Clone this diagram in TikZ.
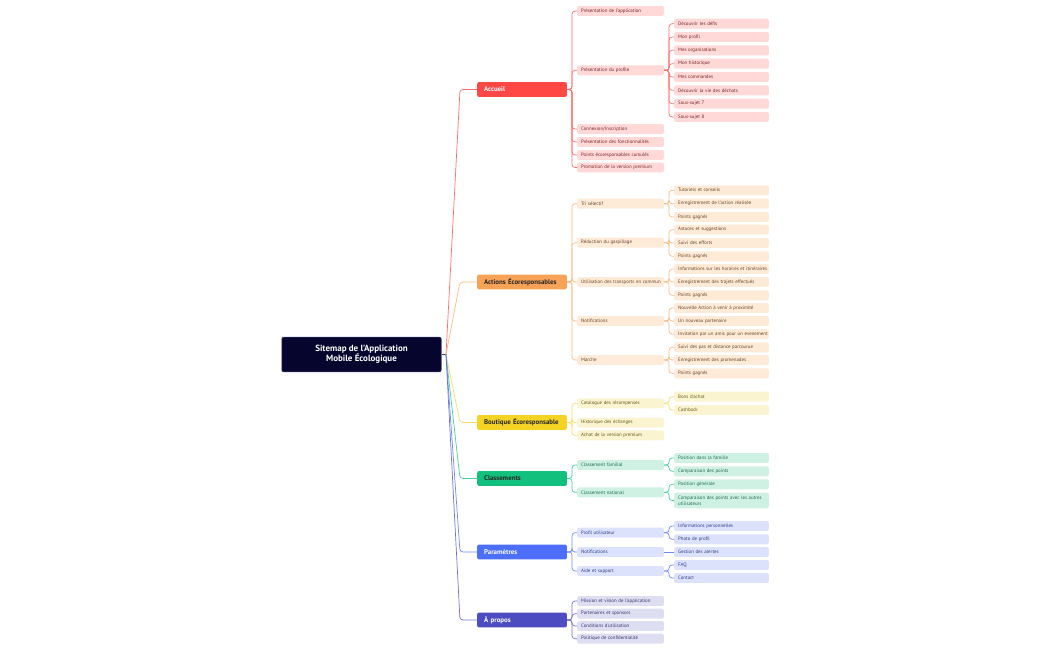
\documentclass[tikz,border=0pt]{standalone}
\usepackage{fontspec}
\setmainfont{PT Sans}
\definecolor{rootfill}{HTML}{05052E}
\definecolor{rootline}{HTML}{3E3E78}
\definecolor{redmain}{HTML}{FF4743}
\definecolor{redline}{HTML}{FF6E6A}
\definecolor{redlight}{HTML}{FFD8D8}
\definecolor{redtext}{HTML}{7A2424}
\definecolor{orgmain}{HTML}{F7A257}
\definecolor{orgline}{HTML}{F8BB82}
\definecolor{orglight}{HTML}{FDEAD7}
\definecolor{orgtext}{HTML}{6A4426}
\definecolor{yelmain}{HTML}{F4D325}
\definecolor{yelline}{HTML}{F4DC66}
\definecolor{yellight}{HTML}{FBF4D0}
\definecolor{yeltext}{HTML}{655716}
\definecolor{grnmain}{HTML}{12C07D}
\definecolor{grnline}{HTML}{44CF98}
\definecolor{grnlight}{HTML}{CFF1E4}
\definecolor{grntext}{HTML}{1F6A4E}
\definecolor{blumain}{HTML}{4C6EF8}
\definecolor{bluline}{HTML}{6F89F8}
\definecolor{blulight}{HTML}{DCE2FC}
\definecolor{blutext}{HTML}{2C3B86}
\definecolor{indmain}{HTML}{4D4CC1}
\definecolor{indline}{HTML}{7171D2}
\definecolor{indlight}{HTML}{DEDEF2}
\definecolor{indtext}{HTML}{34346C}
\tikzset{
  rootbox/.style={fill=rootfill,draw=rootline,line width=0.6,rounded corners=2,text=white,
    font=\bfseries\fontsize{9}{10.2}\selectfont,align=center,minimum width=160,
    minimum height=35,inner sep=0},
  topic/.style={anchor=west,rounded corners=2,font=\bfseries\fontsize{6.9}{7.5}\selectfont,
    text width=76,align=left,inner xsep=7,inner ysep=0,minimum height=15},
  subwrap/.style={anchor=west,rounded corners=2,font=\fontsize{4.9}{5.6}\selectfont,
    text width=79,align=left,inner xsep=4,inner ysep=0,minimum height=10},
  sub/.style={subwrap,execute at begin node={\hbox\bgroup},execute at end node={\egroup}},
  leaf/.style={sub,text width=87},
  leafwrap/.style={subwrap,text width=87},
  link/.style={line width=0.7,rounded corners=3}
}
\begin{document}
\begin{tikzpicture}[x=1bp,y=-1bp]
\useasboundingbox (0,0) rectangle (1050,650);
%%
  % Node: root
  \node[rootbox] (root) at (361.5,354.5) {Sitemap de l’Application\\Mobile Écologique};
  \coordinate (hub) at (446,354.5);
  \draw[link,rootline] (root.east) -- (hub);
%% Accueil
  \node[topic,fill=redmain,text=white] (accueil) at (477,89.5) {Accueil};
  \node[sub,fill=redlight,text=redtext] (accueil1) at (577,11) {Présentation de l’application};
  \node[sub,fill=redlight,text=redtext] (accueil2) at (577,70.3) {Présentation du profile};
  \node[sub,fill=redlight,text=redtext] (accueil3) at (577,129) {Connexion/Inscription};
  \node[sub,fill=redlight,text=redtext] (accueil4) at (577,142) {Présentation des fonctionnalités};
  \node[sub,fill=redlight,text=redtext] (accueil5) at (577,155) {Points écoresponsables cumulés};
  \node[sub,fill=redlight,text=redtext] (accueil6) at (577,167.5) {Promotion de la version premium};
  \node[leaf,fill=redlight,text=redtext] (profil1) at (674,23.7) {Découvrir les défis};
  \node[leaf,fill=redlight,text=redtext] (profil2) at (674,37) {Mon profil};
  \node[leaf,fill=redlight,text=redtext] (profil3) at (674,50.3) {Mes organisations};
  \node[leaf,fill=redlight,text=redtext] (profil4) at (674,63.7) {Mon historique};
  \node[leaf,fill=redlight,text=redtext] (profil5) at (674,77) {Mes commandes};
  \node[leaf,fill=redlight,text=redtext] (profil6) at (674,90.3) {Découvrir la vie des déchats};
  \node[leaf,fill=redlight,text=redtext] (profil7) at (674,103.7) {Sous-sujet 7};
  \node[leaf,fill=redlight,text=redtext] (profil8) at (674,117) {Sous-sujet 8};
  % Edge: root -> accueil
  \draw[link,redline] (hub) -- (460,89.5) -- (accueil.west);
  % Edges: accueil -> accueil1..6, accueil2 -> profil1..8
  \draw[link,redline] (accueil.east) -- ++(5,0) |- (accueil1.west);
  \draw[link,redline] (accueil.east) -- ++(5,0) |- (accueil2.west);
  \draw[link,redline] (accueil.east) -- ++(5,0) |- (accueil3.west);
  \draw[link,redline] (accueil.east) -- ++(5,0) |- (accueil4.west);
  \draw[link,redline] (accueil.east) -- ++(5,0) |- (accueil5.west);
  \draw[link,redline] (accueil.east) -- ++(5,0) |- (accueil6.west);
  \draw[link,redline] (accueil2.east) -- ++(5,0) |- (profil1.west);
  \draw[link,redline] (accueil2.east) -- ++(5,0) |- (profil2.west);
  \draw[link,redline] (accueil2.east) -- ++(5,0) |- (profil3.west);
  \draw[link,redline] (accueil2.east) -- ++(5,0) |- (profil4.west);
  \draw[link,redline] (accueil2.east) -- ++(5,0) |- (profil5.west);
  \draw[link,redline] (accueil2.east) -- ++(5,0) |- (profil6.west);
  \draw[link,redline] (accueil2.east) -- ++(5,0) |- (profil7.west);
  \draw[link,redline] (accueil2.east) -- ++(5,0) |- (profil8.west);
%% Actions
  \node[topic,fill=orgmain,text=black!85] (actions) at (477,282) {Actions Écoresponsables};
  \node[sub,fill=orglight,text=orgtext] (tri) at (577,203.7) {Tri sélectif};
  \node[sub,fill=orglight,text=orgtext] (gaspi) at (577,242.7) {Réduction du gaspillage};
  \node[sub,fill=orglight,text=orgtext] (transport) at (577,282) {Utilisation des transports en commun};
  \node[sub,fill=orglight,text=orgtext] (notif) at (577,321) {Notifications};
  \node[sub,fill=orglight,text=orgtext] (marche) at (577,360) {Marche};
  \node[leaf,fill=orglight,text=orgtext] (tri1) at (674,190.3) {Tutoriels et conseils};
  \node[leaf,fill=orglight,text=orgtext] (tri2) at (674,203.7) {Enregistrement de l’action réalisée};
  \node[leaf,fill=orglight,text=orgtext] (tri3) at (674,217) {Points gagnés};
  \node[leaf,fill=orglight,text=orgtext] (gaspi1) at (674,229.7) {Astuces et suggestions};
  \node[leaf,fill=orglight,text=orgtext] (gaspi2) at (674,243) {Suivi des efforts};
  \node[leaf,fill=orglight,text=orgtext] (gaspi3) at (674,256.3) {Points gagnés};
  \node[leaf,fill=orglight,text=orgtext] (transport1) at (674,269) {Informations sur les horaires et itinéraires};
  \node[leaf,fill=orglight,text=orgtext] (transport2) at (674,282) {Enregistrement des trajets effectués};
  \node[leaf,fill=orglight,text=orgtext] (transport3) at (674,295.3) {Points gagnés};
  \node[leaf,fill=orglight,text=orgtext] (notif1) at (674,308) {Nouvelle Action à venir à proximité};
  \node[leaf,fill=orglight,text=orgtext] (notif2) at (674,321) {Un nouveau partenaire};
  \node[leaf,fill=orglight,text=orgtext] (notif3) at (674,334) {Invitation par un amis pour un evenement};
  \node[leaf,fill=orglight,text=orgtext] (marche1) at (674,347.3) {Suivi des pas et distance parcourue};
  \node[leaf,fill=orglight,text=orgtext] (marche2) at (674,360) {Enregistrement des promenades};
  \node[leaf,fill=orglight,text=orgtext] (marche3) at (674,373.3) {Points gagnés};
  % Edge: root -> actions
  \draw[link,orgline] (hub) -- (460,282) -- (actions.west);
  % Edges: actions -> tri, gaspi, transport, notif, marche and their leaves
  \draw[link,orgline] (actions.east) -- ++(5,0) |- (tri.west);
  \draw[link,orgline] (actions.east) -- ++(5,0) |- (gaspi.west);
  \draw[link,orgline] (actions.east) -- ++(5,0) |- (transport.west);
  \draw[link,orgline] (actions.east) -- ++(5,0) |- (notif.west);
  \draw[link,orgline] (actions.east) -- ++(5,0) |- (marche.west);
  \draw[link,orgline] (tri.east) -- ++(5,0) |- (tri1.west);
  \draw[link,orgline] (tri.east) -- ++(5,0) |- (tri2.west);
  \draw[link,orgline] (tri.east) -- ++(5,0) |- (tri3.west);
  \draw[link,orgline] (gaspi.east) -- ++(5,0) |- (gaspi1.west);
  \draw[link,orgline] (gaspi.east) -- ++(5,0) |- (gaspi2.west);
  \draw[link,orgline] (gaspi.east) -- ++(5,0) |- (gaspi3.west);
  \draw[link,orgline] (transport.east) -- ++(5,0) |- (transport1.west);
  \draw[link,orgline] (transport.east) -- ++(5,0) |- (transport2.west);
  \draw[link,orgline] (transport.east) -- ++(5,0) |- (transport3.west);
  \draw[link,orgline] (notif.east) -- ++(5,0) |- (notif1.west);
  \draw[link,orgline] (notif.east) -- ++(5,0) |- (notif2.west);
  \draw[link,orgline] (notif.east) -- ++(5,0) |- (notif3.west);
  \draw[link,orgline] (marche.east) -- ++(5,0) |- (marche1.west);
  \draw[link,orgline] (marche.east) -- ++(5,0) |- (marche2.west);
  \draw[link,orgline] (marche.east) -- ++(5,0) |- (marche3.west);
%% Boutique
  \node[topic,fill=yelmain,text=black!85] (boutique) at (477,422.5) {Boutique Écoresponsable};
  \node[sub,fill=yellight,text=yeltext] (catalogue) at (577,403.3) {Catalogue des récompenses};
  \node[sub,fill=yellight,text=yeltext] (historique) at (577,422.7) {Historique des échanges};
  \node[sub,fill=yellight,text=yeltext] (achat) at (577,435.3) {Achat de la version premium};
  \node[leaf,fill=yellight,text=yeltext] (catalogue1) at (674,396.7) {Bons d’achat};
  \node[leaf,fill=yellight,text=yeltext] (catalogue2) at (674,410) {Cashback};
  % Edge: root -> boutique
  \draw[link,yelline] (hub) -- (460,422.5) -- (boutique.west);
  % Edges: boutique -> catalogue, historique, achat
  \draw[link,yelline] (boutique.east) -- ++(5,0) |- (catalogue.west);
  \draw[link,yelline] (boutique.east) -- ++(5,0) |- (historique.west);
  \draw[link,yelline] (boutique.east) -- ++(5,0) |- (achat.west);
  \draw[link,yelline] (catalogue.east) -- ++(5,0) |- (catalogue1.west);
  \draw[link,yelline] (catalogue.east) -- ++(5,0) |- (catalogue2.west);
%% Classements
  \node[topic,fill=grnmain,text=black!85] (classements) at (477,478.5) {Classements};
  \node[sub,fill=grnlight,text=grntext] (familial) at (577,465) {Classement familial};
  \node[sub,fill=grnlight,text=grntext] (national) at (577,492.3) {Classement national};
  \node[leaf,fill=grnlight,text=grntext] (familial1) at (674,458) {Position dans la famille};
  \node[leaf,fill=grnlight,text=grntext] (familial2) at (674,471.3) {Comparaison des points};
  \node[leaf,fill=grnlight,text=grntext] (national1) at (674,484.3) {Position générale};
  \node[leafwrap,fill=grnlight,text=grntext,minimum height=15.6] (national2) at (674,500.5) {Comparaison des points avec les autres\\utilisateurs};
  % Edge: root -> classements
  \draw[link,grnline] (hub) -- (460,478.5) -- (classements.west);
  % Edges: classements -> familial, national
  \draw[link,grnline] (classements.east) -- ++(5,0) |- (familial.west);
  \draw[link,grnline] (classements.east) -- ++(5,0) |- (national.west);
  \draw[link,grnline] (familial.east) -- ++(5,0) |- (familial1.west);
  \draw[link,grnline] (familial.east) -- ++(5,0) |- (familial2.west);
  \draw[link,grnline] (national.east) -- ++(5,0) |- (national1.west);
  \draw[link,grnline] (national.east) -- ++(5,0) |- (national2.west);
%% Parametres
  \node[topic,fill=blumain,text=white] (parametres) at (477,552) {Paramètres};
  \node[sub,fill=blulight,text=blutext] (profil) at (577,532.7) {Profil utilisateur};
  \node[sub,fill=blulight,text=blutext] (alertes) at (577,552) {Notifications};
  \node[sub,fill=blulight,text=blutext] (aide) at (577,571) {Aide et support};
  \node[leaf,fill=blulight,text=blutext] (profil9) at (674,526) {Informations personnelles};
  \node[leaf,fill=blulight,text=blutext] (profil10) at (674,539.3) {Photo de profil};
  \node[leaf,fill=blulight,text=blutext] (alertes1) at (674,552) {Gestion des alertes};
  \node[leaf,fill=blulight,text=blutext] (aide1) at (674,565) {FAQ};
  \node[leaf,fill=blulight,text=blutext] (aide2) at (674,578) {Contact};
  % Edge: root -> parametres
  \draw[link,bluline] (hub) -- (460,552) -- (parametres.west);
  % Edges: parametres -> profil, alertes, aide
  \draw[link,bluline] (parametres.east) -- ++(5,0) |- (profil.west);
  \draw[link,bluline] (parametres.east) -- ++(5,0) |- (alertes.west);
  \draw[link,bluline] (parametres.east) -- ++(5,0) |- (aide.west);
  \draw[link,bluline] (profil.east) -- ++(5,0) |- (profil9.west);
  \draw[link,bluline] (profil.east) -- ++(5,0) |- (profil10.west);
  \draw[link,bluline] (alertes.east) -- (alertes1.west);
  \draw[link,bluline] (aide.east) -- ++(5,0) |- (aide1.west);
  \draw[link,bluline] (aide.east) -- ++(5,0) |- (aide2.west);
%% A propos
  \node[topic,fill=indmain,text=white] (apropos) at (477,620) {À propos};
  \node[sub,fill=indlight,text=indtext] (apropos1) at (577,601) {Mission et vision de l’application};
  \node[sub,fill=indlight,text=indtext] (apropos2) at (577,613.7) {Partenaires et sponsors};
  \node[sub,fill=indlight,text=indtext] (apropos3) at (577,626) {Conditions d’utilisation};
  \node[sub,fill=indlight,text=indtext] (apropos4) at (577,638.7) {Politique de confidentialité};
  % Edge: root -> apropos
  \draw[link,indline] (hub) -- (460,620) -- (apropos.west);
  % Edges: apropos -> apropos1..4
  \draw[link,indline] (apropos.east) -- ++(5,0) |- (apropos1.west);
  \draw[link,indline] (apropos.east) -- ++(5,0) |- (apropos2.west);
  \draw[link,indline] (apropos.east) -- ++(5,0) |- (apropos3.west);
  \draw[link,indline] (apropos.east) -- ++(5,0) |- (apropos4.west);
%
\end{tikzpicture}
\end{document}
